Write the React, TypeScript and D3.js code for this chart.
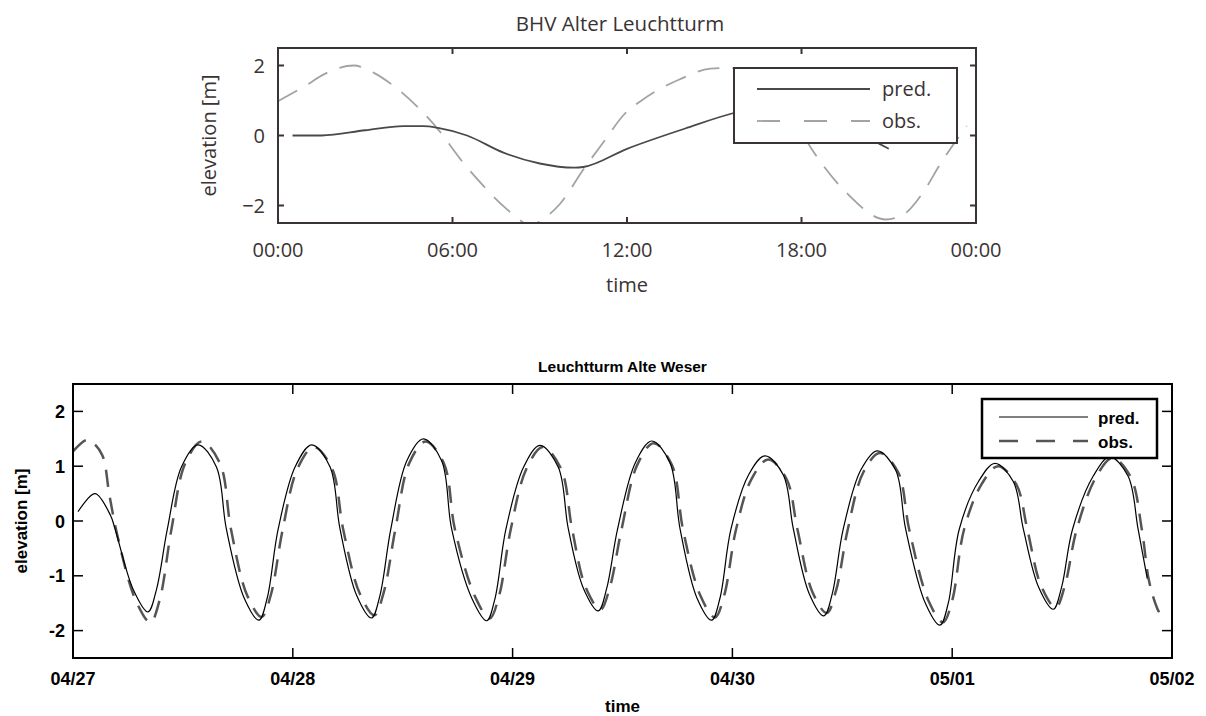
import React from "react";
import * as d3 from "d3";

// --- top panel: BHV Alter Leuchtturm, hours after 00:00 ---
const bhvPredHours = [0.5, 1.5, 3, 4.3, 5, 5.5, 6.5, 7.75, 9, 10.2, 10.5, 12, 14, 15.7, 17.3, 19, 20.5, 21];
const bhvPredValues = [0, 0, 0.15, 0.27, 0.27, 0.22, 0.0, -0.49, -0.8, -0.92, -0.9, -0.38, 0.2, 0.65, 0.9, 0.45, -0.16, -0.38];

const bhvObsHours = [0, 1, 1.56, 2.6, 3.3, 4, 4.77, 5.46, 6.37, 7, 7.75, 8.15, 8.7, 9.0, 9.7, 10.5, 11.2, 11.9, 12.5, 13.13, 13.8, 14.86, 15.5, 16.5, 17.5, 18.4, 19.55, 20.9, 21.5, 22.2, 22.76, 23.68];
const bhvObsValues = [0.98, 1.45, 1.74, 2.0, 1.79, 1.4, 0.84, 0.22, -0.78, -1.38, -2.02, -2.3, -2.58, -2.45, -1.95, -0.97, -0.18, 0.6, 1.0, 1.33, 1.6, 1.91, 1.93, 1.7, 0.8, -0.45, -1.64, -2.4, -2.26, -1.6, -0.83, 0.27];

const bhvTickHours = [0, 6, 12, 18, 24];
const bhvTickLabels = ["00:00", "06:00", "12:00", "18:00", "00:00"];
const bhvYTicks = [-2, 0, 2];

// --- bottom panel: Leuchtturm Alte Weser, hours after 04/27 00:00 ---
const lawPredHours = [
  0.55, 2.4, 4.1, 4.6, 6.6, 8.19, 9.1, 10.3, 11.85, 13.65, 15.65, 16.75, 18.7, 20.3, 21.2, 22.4,
  24.26, 26.06, 28.06, 29.16, 31.0, 32.6, 33.5, 34.7, 36.45, 38.25, 40.25, 41.35, 43.57, 45.17, 46.07, 47.27,
  49.19, 50.99, 52.99, 54.09, 55.76, 57.36, 58.26, 59.46, 61.39, 63.19, 65.19, 66.29, 68.14, 69.74, 70.64, 71.84,
  73.76, 75.56, 77.56, 78.66, 80.4, 82.0, 82.9, 84.1, 86.02, 87.82, 89.82, 90.92, 93.07, 94.67, 95.57, 96.77,
  98.87, 100.67, 102.67, 103.77, 105.44, 107.04, 107.94, 109.14, 111.4, 113.2, 115.2, 116.3, 117.3,
];
const lawPredValues = [
  0.17, 0.5, 0.1, -0.15, -1.26, -1.66, -1.26, -0.15, 0.99, 1.39, 0.99, -0.15, -1.41, -1.81, -1.41, -0.15,
  0.99, 1.39, 0.99, -0.15, -1.37, -1.77, -1.37, -0.15, 1.1, 1.5, 1.1, -0.15, -1.42, -1.82, -1.42, -0.15,
  0.98, 1.38, 0.98, -0.15, -1.24, -1.64, -1.24, -0.15, 1.06, 1.46, 1.06, -0.15, -1.41, -1.81, -1.41, -0.15,
  0.84, 1.19, 0.84, -0.15, -1.33, -1.73, -1.33, -0.15, 0.93, 1.28, 0.93, -0.15, -1.5, -1.9, -1.5, -0.15,
  0.72, 1.05, 0.72, -0.15, -1.21, -1.61, -1.21, -0.15, 0.82, 1.17, 0.82, -0.15, -1.05,
];

const lawObsHours = [
  0, 1.5, 2.1, 3.2, 4.0, 4.9, 6.85, 8.45, 9.45, 10.75, 12.25, 14.05, 16.05, 17.25, 19.0, 20.6, 21.6, 22.9,
  24.5, 26.3, 28.3, 29.5, 31.3, 32.9, 33.9, 35.2, 36.7, 38.5, 40.5, 41.7, 43.9, 45.5, 46.5, 47.8,
  49.5, 51.3, 53.3, 54.5, 56.0, 57.6, 58.6, 59.9, 61.6, 63.4, 65.4, 66.6, 68.5, 70.1, 71.1, 72.4,
  74.1, 75.9, 77.9, 79.1, 80.7, 82.3, 83.3, 84.6, 86.3, 88.1, 90.1, 91.3, 93.4, 95.0, 96.0, 97.3,
  99.2, 101.0, 103.0, 104.2, 105.7, 107.3, 108.3, 109.6, 111.7, 113.5, 115.5, 116.7, 117.5, 118.4, 119.0,
];
const lawObsValues = [
  1.27, 1.48, 1.44, 1.2, 0.45, -0.3, -1.45, -1.85, -1.45, -0.15, 1.05, 1.45, 1.05, -0.15, -1.35, -1.75, -1.35, -0.15,
  0.95, 1.35, 0.95, -0.15, -1.32, -1.72, -1.32, -0.15, 1.05, 1.45, 1.05, -0.15, -1.38, -1.78, -1.38, -0.15,
  0.95, 1.35, 0.95, -0.15, -1.22, -1.62, -1.22, -0.15, 1.02, 1.42, 1.02, -0.15, -1.36, -1.76, -1.36, -0.15,
  0.77, 1.12, 0.77, -0.15, -1.28, -1.68, -1.28, -0.15, 0.89, 1.24, 0.89, -0.15, -1.45, -1.85, -1.45, -0.15,
  0.67, 1.0, 0.67, -0.15, -1.18, -1.58, -1.18, -0.15, 0.8, 1.15, 0.8, -0.15, -1.1, -1.6, -1.78,
];

const lawTickHours = [0, 24, 48, 72, 96, 120];
const lawTickLabels = ["04/27", "04/28", "04/29", "04/30", "05/01", "05/02"];
const lawYTicks = [-2, -1, 0, 1, 2];

const zip = (xs: number[], ys: number[]) => xs.map((x, i) => [x, ys[i]] as [number, number]);

const topX = d3.scaleLinear().domain([0, 24]).range([278, 976]);
const topY = d3.scaleLinear().domain([-2.5, 2.5]).range([223, 48]);
const botX = d3.scaleLinear().domain([0, 120]).range([73, 1172]);
const botY = d3.scaleLinear().domain([-2.5, 2.5]).range([658, 384]);

const topLine = d3.line<[number, number]>()
  .x((d) => topX(d[0]))
  .y((d) => topY(d[1]))
  .curve(d3.curveMonotoneX);

const botLine = d3.line<[number, number]>()
  .x((d) => botX(d[0]))
  .y((d) => botY(d[1]))
  .curve(d3.curveCatmullRom.alpha(0.5));

const TOP_FONT = "'Open Sans', 'Noto Sans', sans-serif";
const BOT_FONT = "'Liberation Sans', Arial, sans-serif";

function TopPanel() {
  const [x0, x1] = topX.range();
  const [y0, y1] = [topY.range()[1], topY.range()[0]];
  const ink = "#3a3333";
  const tick = 6;
  return (
    <g fontFamily={TOP_FONT} fill={ink}>
      <defs>
        <clipPath id="clipTop">
          <rect x={x0} y={y0} width={x1 - x0} height={y1 - y0} />
        </clipPath>
      </defs>
      <text x={(x0 + x1) / 2 - 7} y={31} textAnchor="middle" fontSize={20.5}>BHV Alter Leuchtturm</text>

      <g clipPath="url(#clipTop)" fill="none" strokeWidth={1.8}>
        <path d={topLine(zip(bhvObsHours, bhvObsValues)) || ""} stroke="#a3a3a3" strokeDasharray="22 13" />
        <path d={topLine(zip(bhvPredHours, bhvPredValues)) || ""} stroke="#4d4848" />
      </g>

      <rect x={x0} y={y0} width={x1 - x0} height={y1 - y0} fill="none" stroke={ink} strokeWidth={2} />
      {bhvTickHours.map((h, i) => (
        <g key={"tx" + i}>
          <line x1={topX(h)} x2={topX(h)} y1={y1} y2={y1 - tick} stroke={ink} strokeWidth={2} />
          <line x1={topX(h)} x2={topX(h)} y1={y0} y2={y0 + tick} stroke={ink} strokeWidth={2} />
          <text x={topX(h)} y={257} textAnchor="middle" fontSize={20}>{bhvTickLabels[i]}</text>
        </g>
      ))}
      {bhvYTicks.map((v) => (
        <g key={"ty" + v}>
          <line x1={x0} x2={x0 + tick} y1={topY(v)} y2={topY(v)} stroke={ink} strokeWidth={2} />
          <line x1={x1} x2={x1 - tick} y1={topY(v)} y2={topY(v)} stroke={ink} strokeWidth={2} />
          <text x={x0 - 13} y={topY(v) + 7} textAnchor="end" fontSize={20}>{v < 0 ? "\u2212" + Math.abs(v) : v}</text>
        </g>
      ))}
      <text x={(x0 + x1) / 2} y={292} textAnchor="middle" fontSize={20}>time</text>
      <text transform={`translate(216,${(y0 + y1) / 2}) rotate(-90)`} textAnchor="middle" fontSize={20}>elevation [m]</text>

      <g>
        <rect x={734} y={68} width={223} height={75} fill="#fff" stroke={ink} strokeWidth={2} />
        <line x1={757} x2={870} y1={89} y2={89} stroke="#4d4848" strokeWidth={1.8} />
        <line x1={757} x2={870} y1={121} y2={121} stroke="#a3a3a3" strokeWidth={1.8} strokeDasharray="23 24" />
        <text x={882} y={96} fontSize={20}>pred.</text>
        <text x={882} y={128} fontSize={20}>obs.</text>
      </g>
    </g>
  );
}

function BottomPanel() {
  const [x0, x1] = botX.range();
  const [y0, y1] = [botY.range()[1], botY.range()[0]];
  const tick = 10;
  return (
    <g fontFamily={BOT_FONT} fontWeight="bold" fill="#000">
      <defs>
        <clipPath id="clipBot">
          <rect x={x0} y={y0} width={x1 - x0} height={y1 - y0} />
        </clipPath>
      </defs>
      <text x={(x0 + x1) / 2} y={372} textAnchor="middle" fontSize={15.5}>Leuchtturm Alte Weser</text>

      <g clipPath="url(#clipBot)" fill="none">
        <path d={botLine(zip(lawObsHours, lawObsValues)) || ""} stroke="#555" strokeWidth={2.5} strokeDasharray="17 11" />
        <path d={botLine(zip(lawPredHours, lawPredValues)) || ""} stroke="#000" strokeWidth={1.2} />
      </g>

      <rect x={x0} y={y0} width={x1 - x0} height={y1 - y0} fill="none" stroke="#000" strokeWidth={2} />
      {lawTickHours.map((h, i) => (
        <g key={"bx" + i}>
          <line x1={botX(h)} x2={botX(h)} y1={y1} y2={y1 - tick} stroke="#000" strokeWidth={1.5} />
          <line x1={botX(h)} x2={botX(h)} y1={y0} y2={y0 + tick} stroke="#000" strokeWidth={1.5} />
          <text x={botX(h)} y={685} textAnchor="middle" fontSize={18}>{lawTickLabels[i]}</text>
        </g>
      ))}
      {lawYTicks.map((v) => (
        <g key={"by" + v}>
          <line x1={x0} x2={x0 + tick} y1={botY(v)} y2={botY(v)} stroke="#000" strokeWidth={1.5} />
          <line x1={x1} x2={x1 - tick} y1={botY(v)} y2={botY(v)} stroke="#000" strokeWidth={1.5} />
          <text x={x0 - 8} y={botY(v) + 6.5} textAnchor="end" fontSize={18}>{v}</text>
        </g>
      ))}
      <text x={(x0 + x1) / 2} y={712} textAnchor="middle" fontSize={17}>time</text>
      <text transform={`translate(27,${(y0 + y1) / 2}) rotate(-90)`} textAnchor="middle" fontSize={17}>elevation [m]</text>

      <g>
        <rect x={982} y={399} width={175} height={59} fill="#fff" stroke="#000" strokeWidth={2.5} />
        <line x1={999} x2={1088} y1={417} y2={417} stroke="#000" strokeWidth={1.2} />
        <line x1={999} x2={1088} y1={441} y2={441} stroke="#555" strokeWidth={2.5} strokeDasharray="19 18" />
        <text x={1098} y={424} fontSize={17}>pred.</text>
        <text x={1098} y={448} fontSize={17}>obs.</text>
      </g>
    </g>
  );
}

export default function App() {
  return (
    <svg
      width={1206}
      height={716}
      style={{ position: "absolute", left: 0, top: 0, background: "#fff", display: "block" }}
    >
      <rect width={1206} height={716} fill="#fff" />
      <TopPanel />
      <BottomPanel />
    </svg>
  );
}
